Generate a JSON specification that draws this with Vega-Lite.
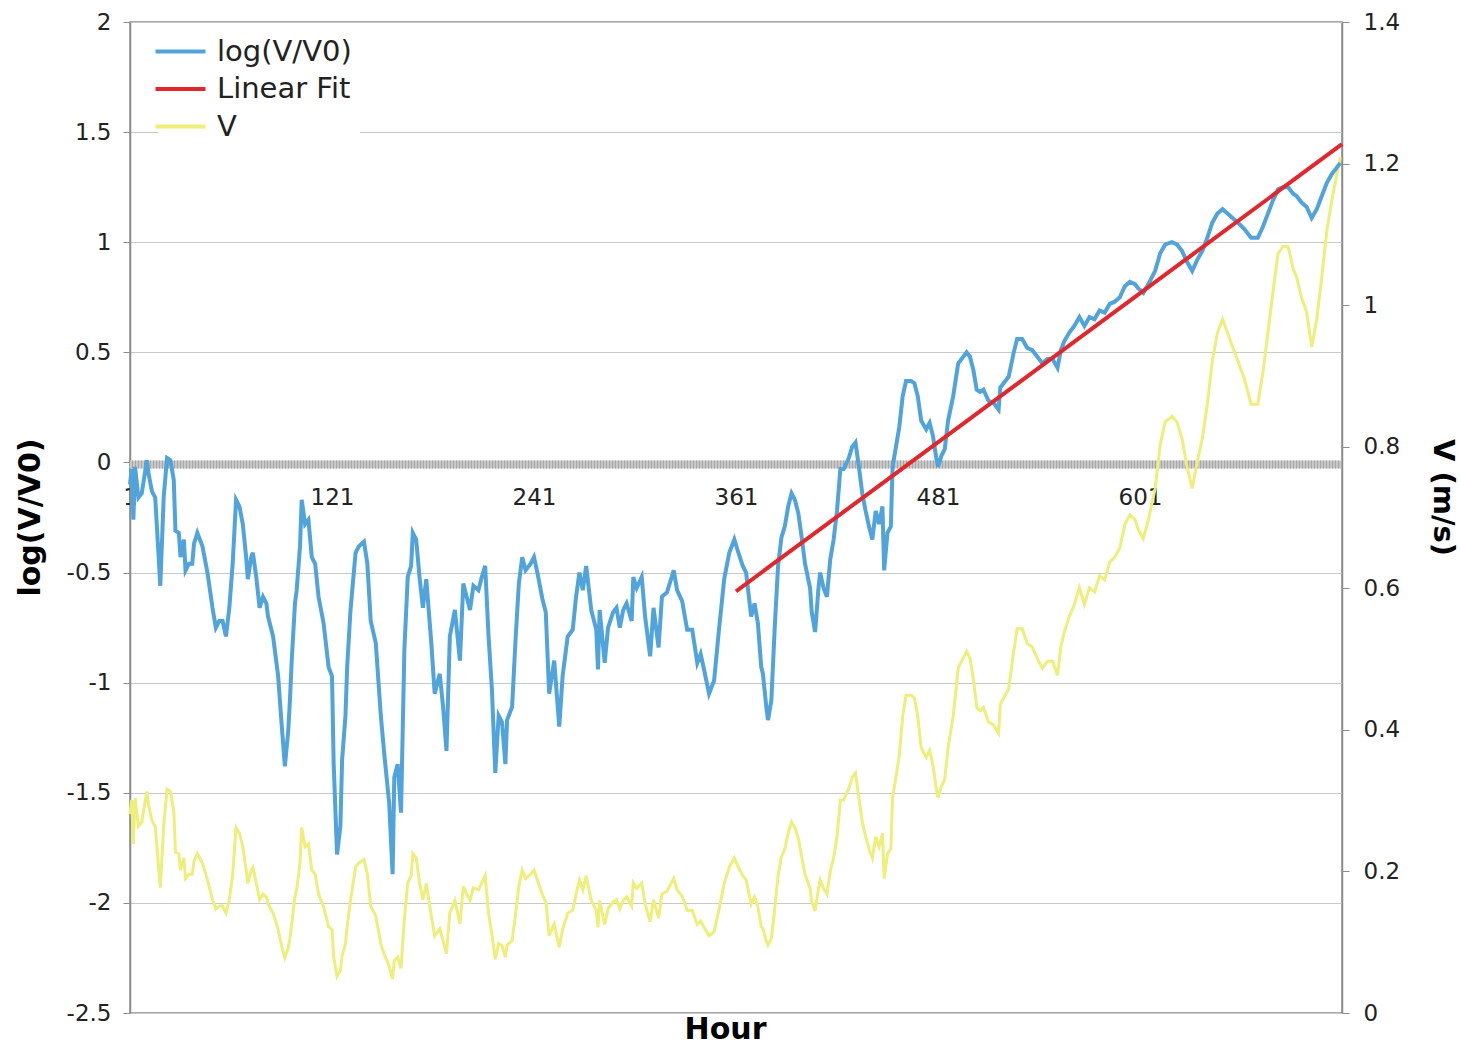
{
  "$schema": "https://vega.github.io/schema/vega-lite/v6.json",
  "width": 1212,
  "height": 991,
  "autosize": {"type": "none"},
  "padding": {"left": 130, "top": 22, "right": 118, "bottom": 34},
  "background": "white",
  "config": {
    "font": "DejaVu Sans",
    "view": {"stroke": "#8c8c8c", "strokeWidth": 1.5}
  },
  "datasets": {
    "series": [
      {"Hour":1,"logV":-0.10,"V":0.281},{"Hour":2,"logV":-0.03,"V":0.301},{"Hour":3,"logV":-0.26,"V":0.239},{"Hour":4,"logV":-0.02,"V":0.304},
      {"Hour":6,"logV":-0.16,"V":0.264},{"Hour":8,"logV":-0.14,"V":0.270},{"Hour":11,"logV":0.01,"V":0.313},{"Hour":12,"logV":-0.05,"V":0.295},
      {"Hour":14,"logV":-0.13,"V":0.272},{"Hour":16,"logV":-0.16,"V":0.264},{"Hour":19,"logV":-0.56,"V":0.177},{"Hour":21,"logV":-0.16,"V":0.264},
      {"Hour":23,"logV":0.02,"V":0.316},{"Hour":25,"logV":0.01,"V":0.313},{"Hour":27,"logV":-0.08,"V":0.286},{"Hour":28,"logV":-0.31,"V":0.227},
      {"Hour":30,"logV":-0.32,"V":0.225},{"Hour":31,"logV":-0.43,"V":0.202},{"Hour":33,"logV":-0.35,"V":0.219},{"Hour":34,"logV":-0.49,"V":0.190},
      {"Hour":36,"logV":-0.46,"V":0.196},{"Hour":38,"logV":-0.46,"V":0.196},{"Hour":39,"logV":-0.37,"V":0.214},{"Hour":41,"logV":-0.32,"V":0.225},
      {"Hour":44,"logV":-0.38,"V":0.212},{"Hour":47,"logV":-0.50,"V":0.188},{"Hour":50,"logV":-0.66,"V":0.160},{"Hour":52,"logV":-0.75,"V":0.147},
      {"Hour":54,"logV":-0.72,"V":0.151},{"Hour":56,"logV":-0.72,"V":0.151},{"Hour":58,"logV":-0.79,"V":0.141},{"Hour":60,"logV":-0.66,"V":0.160},
      {"Hour":62,"logV":-0.46,"V":0.196},{"Hour":64,"logV":-0.17,"V":0.262},{"Hour":66,"logV":-0.20,"V":0.254},{"Hour":68,"logV":-0.28,"V":0.235},
      {"Hour":70,"logV":-0.43,"V":0.202},{"Hour":71,"logV":-0.53,"V":0.183},{"Hour":73,"logV":-0.43,"V":0.202},{"Hour":74,"logV":-0.41,"V":0.206},
      {"Hour":76,"logV":-0.52,"V":0.184},{"Hour":78,"logV":-0.66,"V":0.160},{"Hour":80,"logV":-0.61,"V":0.168},{"Hour":82,"logV":-0.64,"V":0.164},
      {"Hour":83,"logV":-0.70,"V":0.154},{"Hour":86,"logV":-0.79,"V":0.141},{"Hour":89,"logV":-0.97,"V":0.118},{"Hour":91,"logV":-1.18,"V":0.095},
      {"Hour":93,"logV":-1.38,"V":0.078},{"Hour":95,"logV":-1.22,"V":0.092},{"Hour":96,"logV":-1.08,"V":0.105},{"Hour":97,"logV":-0.91,"V":0.125},
      {"Hour":99,"logV":-0.64,"V":0.164},{"Hour":100,"logV":-0.58,"V":0.174},{"Hour":102,"logV":-0.38,"V":0.212},{"Hour":103,"logV":-0.17,"V":0.262},
      {"Hour":105,"logV":-0.28,"V":0.235},{"Hour":107,"logV":-0.26,"V":0.239},{"Hour":109,"logV":-0.43,"V":0.202},{"Hour":111,"logV":-0.46,"V":0.196},
      {"Hour":113,"logV":-0.61,"V":0.168},{"Hour":116,"logV":-0.73,"V":0.150},{"Hour":119,"logV":-0.93,"V":0.122},{"Hour":121,"logV":-0.97,"V":0.118},
      {"Hour":122,"logV":-1.37,"V":0.079},{"Hour":124,"logV":-1.78,"V":0.052},{"Hour":126,"logV":-1.65,"V":0.060},{"Hour":127,"logV":-1.35,"V":0.081},
      {"Hour":129,"logV":-1.15,"V":0.098},{"Hour":130,"logV":-0.93,"V":0.122},{"Hour":132,"logV":-0.67,"V":0.159},{"Hour":135,"logV":-0.41,"V":0.206},
      {"Hour":137,"logV":-0.38,"V":0.212},{"Hour":140,"logV":-0.36,"V":0.217},{"Hour":142,"logV":-0.46,"V":0.196},{"Hour":144,"logV":-0.72,"V":0.151},
      {"Hour":147,"logV":-0.82,"V":0.137},{"Hour":150,"logV":-1.15,"V":0.098},{"Hour":152,"logV":-1.32,"V":0.083},{"Hour":155,"logV":-1.55,"V":0.066},
      {"Hour":157,"logV":-1.87,"V":0.048},{"Hour":158,"logV":-1.43,"V":0.074},{"Hour":160,"logV":-1.37,"V":0.079},{"Hour":162,"logV":-1.59,"V":0.063},
      {"Hour":164,"logV":-0.85,"V":0.133},{"Hour":166,"logV":-0.52,"V":0.184},{"Hour":168,"logV":-0.47,"V":0.194},{"Hour":169,"logV":-0.32,"V":0.225},
      {"Hour":171,"logV":-0.35,"V":0.219},{"Hour":173,"logV":-0.52,"V":0.184},{"Hour":175,"logV":-0.66,"V":0.160},{"Hour":177,"logV":-0.53,"V":0.183},
      {"Hour":180,"logV":-0.82,"V":0.137},{"Hour":182,"logV":-1.05,"V":0.109},{"Hour":185,"logV":-0.96,"V":0.119},{"Hour":187,"logV":-1.11,"V":0.102},
      {"Hour":189,"logV":-1.31,"V":0.084},{"Hour":191,"logV":-0.79,"V":0.141},{"Hour":194,"logV":-0.67,"V":0.159},{"Hour":197,"logV":-0.90,"V":0.126},
      {"Hour":199,"logV":-0.55,"V":0.179},{"Hour":201,"logV":-0.61,"V":0.168},{"Hour":203,"logV":-0.67,"V":0.159},{"Hour":205,"logV":-0.56,"V":0.177},
      {"Hour":208,"logV":-0.58,"V":0.174},{"Hour":210,"logV":-0.52,"V":0.184},{"Hour":212,"logV":-0.47,"V":0.194},{"Hour":214,"logV":-0.79,"V":0.141},
      {"Hour":216,"logV":-1.03,"V":0.111},{"Hour":218,"logV":-1.41,"V":0.076},{"Hour":220,"logV":-1.15,"V":0.098},{"Hour":222,"logV":-1.18,"V":0.095},
      {"Hour":224,"logV":-1.37,"V":0.079},{"Hour":225,"logV":-1.17,"V":0.096},{"Hour":228,"logV":-1.11,"V":0.102},{"Hour":230,"logV":-0.81,"V":0.138},
      {"Hour":232,"logV":-0.55,"V":0.179},{"Hour":234,"logV":-0.43,"V":0.202},{"Hour":236,"logV":-0.49,"V":0.190},{"Hour":239,"logV":-0.46,"V":0.196},
      {"Hour":241,"logV":-0.43,"V":0.202},{"Hour":243,"logV":-0.50,"V":0.188},{"Hour":246,"logV":-0.62,"V":0.167},{"Hour":248,"logV":-0.68,"V":0.157},
      {"Hour":250,"logV":-1.05,"V":0.109},{"Hour":253,"logV":-0.90,"V":0.126},{"Hour":256,"logV":-1.20,"V":0.093},{"Hour":258,"logV":-0.97,"V":0.118},
      {"Hour":261,"logV":-0.79,"V":0.141},{"Hour":264,"logV":-0.76,"V":0.145},{"Hour":266,"logV":-0.61,"V":0.168},{"Hour":268,"logV":-0.50,"V":0.188},
      {"Hour":270,"logV":-0.58,"V":0.174},{"Hour":272,"logV":-0.47,"V":0.194},{"Hour":275,"logV":-0.67,"V":0.159},{"Hour":278,"logV":-0.76,"V":0.145},
      {"Hour":279,"logV":-0.94,"V":0.121},{"Hour":280,"logV":-0.67,"V":0.159},{"Hour":283,"logV":-0.91,"V":0.125},{"Hour":285,"logV":-0.75,"V":0.147},
      {"Hour":288,"logV":-0.68,"V":0.157},{"Hour":290,"logV":-0.66,"V":0.160},{"Hour":292,"logV":-0.75,"V":0.147},{"Hour":294,"logV":-0.67,"V":0.159},
      {"Hour":296,"logV":-0.64,"V":0.164},{"Hour":299,"logV":-0.72,"V":0.151},{"Hour":300,"logV":-0.52,"V":0.184},{"Hour":302,"logV":-0.57,"V":0.176},
      {"Hour":305,"logV":-0.52,"V":0.184},{"Hour":307,"logV":-0.70,"V":0.154},{"Hour":310,"logV":-0.88,"V":0.129},{"Hour":312,"logV":-0.66,"V":0.160},
      {"Hour":315,"logV":-0.84,"V":0.134},{"Hour":317,"logV":-0.61,"V":0.168},{"Hour":320,"logV":-0.59,"V":0.172},{"Hour":324,"logV":-0.49,"V":0.190},
      {"Hour":326,"logV":-0.58,"V":0.174},{"Hour":329,"logV":-0.63,"V":0.165},{"Hour":332,"logV":-0.76,"V":0.145},{"Hour":335,"logV":-0.76,"V":0.145},
      {"Hour":338,"logV":-0.91,"V":0.125},{"Hour":340,"logV":-0.87,"V":0.130},{"Hour":342,"logV":-0.94,"V":0.121},{"Hour":345,"logV":-1.05,"V":0.109},
      {"Hour":348,"logV":-0.99,"V":0.115},{"Hour":351,"logV":-0.75,"V":0.147},{"Hour":354,"logV":-0.53,"V":0.183},{"Hour":357,"logV":-0.41,"V":0.206},
      {"Hour":360,"logV":-0.35,"V":0.219},{"Hour":362,"logV":-0.40,"V":0.208},{"Hour":365,"logV":-0.47,"V":0.194},{"Hour":367,"logV":-0.50,"V":0.188},
      {"Hour":370,"logV":-0.70,"V":0.154},{"Hour":372,"logV":-0.64,"V":0.164},{"Hour":374,"logV":-0.73,"V":0.150},{"Hour":376,"logV":-0.93,"V":0.122},
      {"Hour":377,"logV":-0.96,"V":0.119},{"Hour":379,"logV":-1.11,"V":0.102},{"Hour":380,"logV":-1.17,"V":0.096},{"Hour":382,"logV":-1.08,"V":0.105},
      {"Hour":384,"logV":-0.75,"V":0.147},{"Hour":386,"logV":-0.47,"V":0.194},{"Hour":388,"logV":-0.34,"V":0.221},{"Hour":390,"logV":-0.29,"V":0.232},
      {"Hour":392,"logV":-0.20,"V":0.254},{"Hour":394,"logV":-0.14,"V":0.270},{"Hour":396,"logV":-0.17,"V":0.262},{"Hour":398,"logV":-0.23,"V":0.247},
      {"Hour":400,"logV":-0.34,"V":0.221},{"Hour":402,"logV":-0.46,"V":0.196},{"Hour":405,"logV":-0.57,"V":0.176},{"Hour":406,"logV":-0.68,"V":0.157},
      {"Hour":408,"logV":-0.77,"V":0.144},{"Hour":410,"logV":-0.57,"V":0.176},{"Hour":411,"logV":-0.50,"V":0.188},{"Hour":413,"logV":-0.57,"V":0.176},
      {"Hour":415,"logV":-0.61,"V":0.168},{"Hour":417,"logV":-0.44,"V":0.200},{"Hour":419,"logV":-0.35,"V":0.219},{"Hour":421,"logV":-0.22,"V":0.249},
      {"Hour":423,"logV":-0.03,"V":0.301},{"Hour":425,"logV":-0.03,"V":0.301},{"Hour":428,"logV":0.02,"V":0.317},{"Hour":430,"logV":0.07,"V":0.333},
      {"Hour":432,"logV":0.09,"V":0.339},{"Hour":434,"logV":-0.02,"V":0.304},{"Hour":436,"logV":-0.14,"V":0.270},{"Hour":438,"logV":-0.22,"V":0.249},
      {"Hour":440,"logV":-0.29,"V":0.232},{"Hour":442,"logV":-0.35,"V":0.219},{"Hour":444,"logV":-0.22,"V":0.249},{"Hour":446,"logV":-0.28,"V":0.235},
      {"Hour":448,"logV":-0.20,"V":0.254},{"Hour":449,"logV":-0.49,"V":0.190},{"Hour":451,"logV":-0.32,"V":0.225},{"Hour":453,"logV":-0.29,"V":0.232},
      {"Hour":454,"logV":-0.02,"V":0.304},{"Hour":456,"logV":0.07,"V":0.333},{"Hour":458,"logV":0.16,"V":0.364},{"Hour":460,"logV":0.30,"V":0.419},
      {"Hour":462,"logV":0.37,"V":0.449},{"Hour":465,"logV":0.37,"V":0.449},{"Hour":467,"logV":0.36,"V":0.445},{"Hour":469,"logV":0.30,"V":0.419},
      {"Hour":471,"logV":0.19,"V":0.375},{"Hour":474,"logV":0.15,"V":0.361},{"Hour":476,"logV":0.18,"V":0.371},{"Hour":478,"logV":0.12,"V":0.350},
      {"Hour":480,"logV":0.02,"V":0.317},{"Hour":481,"logV":-0.02,"V":0.304},{"Hour":483,"logV":0.03,"V":0.320},{"Hour":485,"logV":0.06,"V":0.330},
      {"Hour":487,"logV":0.19,"V":0.375},{"Hour":490,"logV":0.30,"V":0.419},{"Hour":493,"logV":0.45,"V":0.487},{"Hour":495,"logV":0.47,"V":0.497},
      {"Hour":498,"logV":0.50,"V":0.511},{"Hour":500,"logV":0.48,"V":0.501},{"Hour":502,"logV":0.42,"V":0.472},{"Hour":504,"logV":0.33,"V":0.432},
      {"Hour":506,"logV":0.32,"V":0.427},{"Hour":508,"logV":0.33,"V":0.432},{"Hour":511,"logV":0.28,"V":0.411},{"Hour":514,"logV":0.27,"V":0.407},
      {"Hour":517,"logV":0.24,"V":0.395},{"Hour":518,"logV":0.34,"V":0.436},{"Hour":520,"logV":0.36,"V":0.445},{"Hour":523,"logV":0.39,"V":0.458},
      {"Hour":526,"logV":0.50,"V":0.511},{"Hour":528,"logV":0.56,"V":0.543},{"Hour":531,"logV":0.56,"V":0.543},{"Hour":534,"logV":0.52,"V":0.522},
      {"Hour":537,"logV":0.51,"V":0.517},{"Hour":540,"logV":0.48,"V":0.501},{"Hour":543,"logV":0.45,"V":0.487},{"Hour":546,"logV":0.47,"V":0.497},
      {"Hour":549,"logV":0.47,"V":0.497},{"Hour":552,"logV":0.43,"V":0.477},{"Hour":554,"logV":0.51,"V":0.517},{"Hour":556,"logV":0.55,"V":0.538},
      {"Hour":559,"logV":0.59,"V":0.560},{"Hour":562,"logV":0.62,"V":0.577},{"Hour":565,"logV":0.66,"V":0.601},{"Hour":568,"logV":0.62,"V":0.577},
      {"Hour":571,"logV":0.66,"V":0.601},{"Hour":574,"logV":0.65,"V":0.595},{"Hour":577,"logV":0.69,"V":0.618},{"Hour":580,"logV":0.68,"V":0.612},
      {"Hour":583,"logV":0.72,"V":0.637},{"Hour":586,"logV":0.73,"V":0.644},{"Hour":589,"logV":0.75,"V":0.657},{"Hour":592,"logV":0.80,"V":0.690},
      {"Hour":595,"logV":0.82,"V":0.704},{"Hour":598,"logV":0.81,"V":0.697},{"Hour":600,"logV":0.79,"V":0.683},{"Hour":603,"logV":0.77,"V":0.670},
      {"Hour":606,"logV":0.81,"V":0.697},{"Hour":610,"logV":0.87,"V":0.741},{"Hour":613,"logV":0.95,"V":0.803},{"Hour":616,"logV":0.99,"V":0.835},
      {"Hour":620,"logV":1.00,"V":0.843},{"Hour":623,"logV":0.99,"V":0.835},{"Hour":626,"logV":0.96,"V":0.811},{"Hour":629,"logV":0.91,"V":0.771},
      {"Hour":632,"logV":0.87,"V":0.741},{"Hour":635,"logV":0.92,"V":0.779},{"Hour":638,"logV":0.96,"V":0.811},{"Hour":641,"logV":1.02,"V":0.860},
      {"Hour":644,"logV":1.09,"V":0.922},{"Hour":647,"logV":1.13,"V":0.961},{"Hour":650,"logV":1.15,"V":0.980},{"Hour":653,"logV":1.13,"V":0.961},
      {"Hour":656,"logV":1.11,"V":0.941},{"Hour":659,"logV":1.09,"V":0.922},{"Hour":663,"logV":1.06,"V":0.896},{"Hour":667,"logV":1.02,"V":0.860},
      {"Hour":671,"logV":1.02,"V":0.860},{"Hour":674,"logV":1.07,"V":0.905},{"Hour":677,"logV":1.13,"V":0.961},{"Hour":680,"logV":1.19,"V":1.019},
      {"Hour":683,"logV":1.24,"V":1.073},{"Hour":686,"logV":1.25,"V":1.083},{"Hour":689,"logV":1.25,"V":1.083},{"Hour":692,"logV":1.22,"V":1.051},
      {"Hour":694,"logV":1.21,"V":1.040},{"Hour":697,"logV":1.18,"V":1.010},{"Hour":700,"logV":1.16,"V":0.990},{"Hour":703,"logV":1.11,"V":0.941},
      {"Hour":706,"logV":1.15,"V":0.980},{"Hour":709,"logV":1.21,"V":1.040},{"Hour":712,"logV":1.27,"V":1.105},{"Hour":715,"logV":1.31,"V":1.149},
      {"Hour":718,"logV":1.34,"V":1.185},{"Hour":720,"logV":1.36,"V":1.209}
    ],
    "fit": [
      {"Hour": 361, "logV": -0.585},
      {"Hour": 721, "logV": 1.445}
    ],
    "zero": [
      {"logV": 0}
    ]
  },
  "layer": [
    {
      "data": {"name": "zero"},
      "mark": {"type": "rule", "color": "#c8c8c8", "strokeWidth": 8, "yOffset": 2},
      "encoding": {
        "y": {"field": "logV", "type": "quantitative", "scale": {"domain": [-2.5, 2], "nice": false}, "axis": null}
      }
    },
    {
      "data": {"name": "zero"},
      "mark": {"type": "rule", "color": "#a6a6a6", "strokeWidth": 8, "yOffset": 2, "strokeDash": [1, 2]},
      "encoding": {
        "y": {"field": "logV", "type": "quantitative", "scale": {"domain": [-2.5, 2], "nice": false}, "axis": null}
      }
    },
    {
      "data": {"name": "series"},
      "mark": {"type": "line", "strokeWidth": 3},
      "encoding": {
        "x": {
          "field": "Hour", "type": "quantitative",
          "scale": {"domain": [1, 721], "nice": false, "zero": false},
          "axis": {
            "orient": "bottom", "offset": -550,
            "values": [1, 121, 241, 361, 481, 601], "format": "d",
            "domain": false, "ticks": false, "grid": false,
            "labelFlush": false, "labelBound": false,
            "labelFontSize": 23, "labelColor": "#222222", "labelPadding": 23,
            "title": "Hour", "titleFontSize": 30, "titleFontWeight": "bold", "titleColor": "#000000",
            "titleX": 595, "titleY": 566, "titleAlign": "center", "titleBaseline": "middle"
          }
        },
        "y": {
          "field": "V", "type": "quantitative",
          "scale": {"domain": [0, 1.4], "nice": false},
          "axis": {
            "orient": "right",
            "values": [0, 0.2, 0.4, 0.6, 0.8, 1, 1.2, 1.4],
            "labelExpr": "format(datum.value, '~g')",
            "grid": false,
            "domainColor": "#8c8c8c", "domainWidth": 1.5,
            "tickColor": "#8c8c8c", "tickSize": 7,
            "labelFontSize": 23, "labelColor": "#222222", "labelPadding": 14,
            "title": "V (m/s)", "titleFontSize": 29, "titleFontWeight": "bold", "titleColor": "#000000",
            "titleAngle": 90, "titleX": 100, "titleY": 475, "titleAlign": "center", "titleBaseline": "middle"
          }
        },
        "color": {
          "datum": "V", "type": "nominal",
          "scale": {"domain": ["log(V/V0)", "Linear Fit", "V"], "range": ["#50a3db", "#e3262c", "#eeee7a"]},
          "legend": {
            "orient": "none", "legendX": 28, "legendY": 7, "title": null,
            "fillColor": "white", "padding": 8,
            "labelFontSize": 29, "labelColor": "#222222", "labelOffset": 22,
            "symbolType": "M-2,0H2", "symbolSize": 625, "symbolStrokeWidth": 4,
            "rowPadding": 7.5
          }
        }
      }
    },
    {
      "data": {"name": "series"},
      "mark": {"type": "line", "strokeWidth": 4},
      "encoding": {
        "x": {"field": "Hour", "type": "quantitative", "scale": {"domain": [1, 721], "nice": false, "zero": false}},
        "y": {
          "field": "logV", "type": "quantitative",
          "scale": {"domain": [-2.5, 2], "nice": false},
          "axis": {
            "orient": "left",
            "values": [-2.5, -2, -1.5, -1, -0.5, 0, 0.5, 1, 1.5, 2],
            "labelExpr": "datum.value < 0 ? '-' + format(-datum.value, '~g') : format(datum.value, '~g')",
            "grid": true, "gridColor": "#c9c9c9", "gridWidth": 1.2,
            "domainColor": "#8c8c8c", "domainWidth": 1.5,
            "tickColor": "#8c8c8c", "tickSize": 7,
            "labelFontSize": 23, "labelColor": "#222222", "labelPadding": 12,
            "title": "log(V/V0)", "titleFontSize": 30, "titleFontWeight": "bold", "titleColor": "#000000",
            "titleAngle": -90, "titleX": -100, "titleY": 495, "titleAlign": "center", "titleBaseline": "middle"
          }
        },
        "color": {"datum": "log(V/V0)", "type": "nominal"}
      }
    },
    {
      "data": {"name": "fit"},
      "mark": {"type": "line", "strokeWidth": 4},
      "encoding": {
        "x": {"field": "Hour", "type": "quantitative", "scale": {"domain": [1, 721], "nice": false, "zero": false}},
        "y": {"field": "logV", "type": "quantitative", "scale": {"domain": [-2.5, 2], "nice": false}, "axis": null},
        "color": {"datum": "Linear Fit", "type": "nominal"}
      }
    }
  ],
  "resolve": {"scale": {"y": "independent"}, "axis": {"y": "independent"}}
}
